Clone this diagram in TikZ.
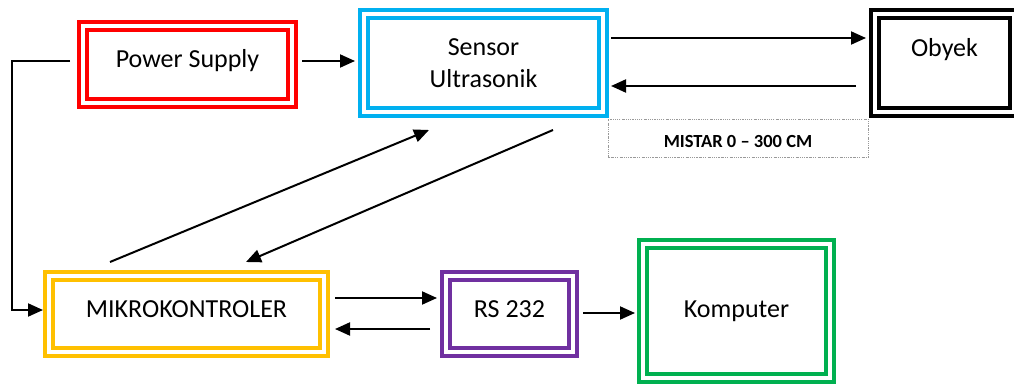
\documentclass[tikz,border=0pt]{standalone}
\usepackage{xcolor}
\usepackage{fontspec}
\setmainfont{Carlito}
\usepackage{tikz}
\usetikzlibrary{
	positioning,
	calc,
	arrows.meta
}

\definecolor{c_red}{RGB}{255,0,0}
\definecolor{c_cyan}{RGB}{0,176,240}
\definecolor{c_yellow}{RGB}{255,192,0}
\definecolor{c_purple}{RGB}{112,48,160}
\definecolor{c_green}{RGB}{0,176,80}

\begin{document}
\begin{tikzpicture}[
	x=1pt, y=-1pt,
	c_box/.style={
		draw=#1,
		double=white,
		line width=3.6pt,
		double distance=4.8pt,
		inner sep=0pt,
		outer sep=0pt,
		align=center,
		font=\fontsize{26}{32}\selectfont
	},
	c_high/.style={
		text height=19pt,
		text depth=12pt
	},
	c_ruler/.style={
		draw=gray!80,
		line width=0.8pt,
		dash pattern=on 1.5pt off 1.2pt on 0.5pt off 1.2pt,
		inner sep=0pt,
		outer sep=0pt,
		text height=18pt,
		text depth=0pt,
		font=\bfseries\fontsize{18.5}{22}\selectfont
	},
	c_arrow/.style={
		-{Triangle[length=15pt,width=13pt]},
		line width=2pt,
		black
	}
	]

	\useasboundingbox (0,0) rectangle (1014,385);

	% =========================================================================
	% TOP ROW
	% =========================================================================

	\node[c_box=c_red, c_high, minimum width=209pt, minimum height=77pt]
	(ps) at (187.5,64.5) {Power Supply};

	\node[c_box=c_cyan, minimum width=239pt, minimum height=98pt]
	(sensor) at (483.5,63) {Sensor\\Ultrasonik};

	\node[c_box=black, minimum width=139pt, minimum height=98pt]
	(obyek) at (944.5,63) {Obyek\\~};

	% Ruler
	\node[c_ruler, minimum width=260pt, minimum height=38pt]
	(mistar) at (738,138) {MISTAR 0 – 300 CM};

	% =========================================================================
	% BOTTOM ROW
	% =========================================================================

	\node[c_box=c_yellow, c_high, minimum width=275pt, minimum height=76pt]
	(mikro) at (186.5,314) {MIKROKONTROLER};

	\node[c_box=c_purple, c_high, minimum width=127pt, minimum height=76pt]
	(rs) at (509.5,314) {RS 232};

	\node[c_box=c_green, minimum width=187pt, minimum height=134pt]
	(komputer) at (736.5,311) {Komputer};

	% =========================================================================
	% ARROWS
	% =========================================================================

	\draw[c_arrow] ($(ps.east)+(10,-3.5)$) -- ($(sensor.west)+(-9,-2)$);

	\draw[c_arrow] ($(sensor.east)+(8,-25)$) -- ($(obyek.west)+(-9,-25)$);
	\draw[c_arrow] ($(obyek.west)+(-19,23)$) -- ($(sensor.east)+(8,23)$);

	% Supply line down to the controller
	\draw[c_arrow] ($(ps.west)+(-13,-3.5)$) -- ++(-58,0)
	|- ($(mikro.west)+(-6,-4)$);

	% Controller <-> sensor
	\draw[c_arrow] ($(mikro.north)+(-76.5,-14)$) -- ($(sensor.south)+(-54.5,18)$);
	\draw[c_arrow] ($(sensor.south)+(69.5,18)$) -- ($(mikro.north)+(59.5,-14)$);

	% Controller <-> RS 232 -> computer
	\draw[c_arrow] ($(mikro.east)+(11,-16)$) -- ($(rs.west)+(-9,-16)$);
	\draw[c_arrow] ($(rs.west)+(-16,15)$) -- ($(mikro.east)+(11,15)$);
	\draw[c_arrow] ($(rs.east)+(10,-1)$) -- ($(komputer.west)+(-8,2)$);

\end{tikzpicture}
\end{document}
